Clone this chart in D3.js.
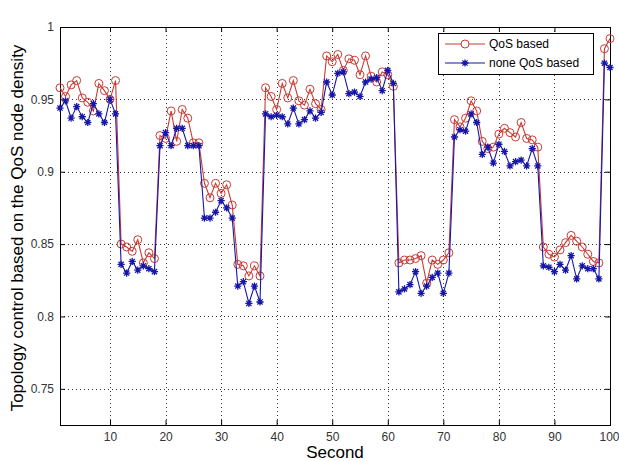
<!DOCTYPE html>
<html>
<head>
<meta charset="utf-8">
<script src="https://cdn.jsdelivr.net/npm/d3@7"></script>
<style>
  html, body { margin: 0; padding: 0; background: #fff; }
  svg { display: block; }
</style>
</head>
<body>
<svg id="chart" width="619" height="461"></svg>
<script>
// ---- data ----
const seconds = d3.range(1, 101);
const qosBased = [
  0.958, 0.952, 0.960, 0.963, 0.951, 0.948, 0.942, 0.961, 0.956, 0.950,
  0.963, 0.850, 0.848, 0.845, 0.853, 0.837, 0.844, 0.840, 0.925, 0.923,
  0.942, 0.921, 0.943, 0.937, 0.920, 0.920, 0.892, 0.882, 0.892, 0.885,
  0.891, 0.877, 0.836, 0.835, 0.828, 0.835, 0.828, 0.958, 0.952, 0.943,
  0.961, 0.951, 0.963, 0.949, 0.946, 0.957, 0.947, 0.943, 0.980, 0.976,
  0.981, 0.970, 0.978, 0.977, 0.967, 0.980, 0.966, 0.962, 0.969, 0.967,
  0.959, 0.837, 0.839, 0.839, 0.840, 0.842, 0.823, 0.839, 0.836, 0.839,
  0.844, 0.936, 0.931, 0.937, 0.949, 0.942, 0.921, 0.916, 0.917, 0.926,
  0.930, 0.927, 0.924, 0.934, 0.923, 0.922, 0.917, 0.848, 0.843, 0.841,
  0.846, 0.851, 0.856, 0.852, 0.848, 0.843, 0.838, 0.837, 0.985, 0.992
];
const noneQosBased = [
  0.944, 0.949, 0.937, 0.945, 0.938, 0.934, 0.947, 0.940, 0.934, 0.950,
  0.940, 0.836, 0.830, 0.838, 0.832, 0.835, 0.833, 0.831, 0.918, 0.927,
  0.918, 0.930, 0.930, 0.918, 0.918, 0.918, 0.868, 0.868, 0.872, 0.880,
  0.875, 0.868, 0.821, 0.824, 0.809, 0.821, 0.810, 0.940, 0.938, 0.939,
  0.938, 0.933, 0.944, 0.933, 0.936, 0.942, 0.937, 0.941, 0.962, 0.953,
  0.968, 0.969, 0.954, 0.955, 0.952, 0.962, 0.964, 0.965, 0.956, 0.970,
  0.961, 0.817, 0.819, 0.822, 0.831, 0.816, 0.821, 0.827, 0.830, 0.816,
  0.830, 0.924, 0.929, 0.928, 0.940, 0.934, 0.912, 0.917, 0.906, 0.919,
  0.914, 0.904, 0.907, 0.908, 0.904, 0.916, 0.904, 0.835, 0.834, 0.831,
  0.836, 0.832, 0.842, 0.826, 0.835, 0.833, 0.833, 0.826, 0.975, 0.972
];
const xTicks = [10, 20, 30, 40, 50, 60, 70, 80, 90, 100];
const yTicks = [0.75, 0.8, 0.85, 0.9, 0.95, 1];
const seriesNames = ["QoS based", "none QoS based"];
const xLabel = "Second";
const yLabel = "Topology control based on the QoS node density";

// ---- layout ----
const svg = d3.select("#chart");
const L = 60, R = 610, T = 27, B = 425;
const redC = "#c93a33", blueC = "#1616a8";
const x = d3.scaleLinear().domain([1, 100]).range([L, R]);
const y = d3.scaleLinear().domain([0.725, 1]).range([B, T]);

svg.append("rect").attr("width", 619).attr("height", 461).attr("fill", "#fff");

// grid
const grid = svg.append("g").attr("stroke", "#333").attr("stroke-width", 1)
  .attr("stroke-dasharray", "1,3").attr("shape-rendering", "crispEdges");
grid.selectAll(".gx").data(xTicks.filter(d => d < 100)).join("line")
  .attr("x1", d => Math.round(x(d)) + 0.5).attr("x2", d => Math.round(x(d)) + 0.5)
  .attr("y1", T).attr("y2", B);
grid.selectAll(".gy").data(yTicks.filter(d => d < 1)).join("line")
  .attr("y1", d => Math.round(y(d)) + 0.5).attr("y2", d => Math.round(y(d)) + 0.5)
  .attr("x1", L).attr("x2", R);

// axes
const fmtY = d => (d === 1 ? "1" : d3.format("")(d));
const axB = svg.append("g").attr("transform", `translate(0,${B})`)
  .call(d3.axisBottom(x).tickValues(xTicks).tickSizeInner(-5).tickSizeOuter(0).tickPadding(7));
const axT = svg.append("g").attr("transform", `translate(0,${T})`)
  .call(d3.axisTop(x).tickValues(xTicks).tickSizeInner(-5).tickSizeOuter(0).tickFormat(""));
const axL = svg.append("g").attr("transform", `translate(${L},0)`)
  .call(d3.axisLeft(y).tickValues(yTicks).tickSizeInner(-5).tickSizeOuter(0).tickPadding(6).tickFormat(fmtY));
const axR = svg.append("g").attr("transform", `translate(${R},0)`)
  .call(d3.axisRight(y).tickValues(yTicks).tickSizeInner(-5).tickSizeOuter(0).tickFormat(""));
[axB, axT, axL, axR].forEach(a => {
  a.select(".domain").remove();
  a.selectAll("line").attr("stroke", "#000");
  a.selectAll("text").attr("fill", "#333").style("font-family", "Liberation Sans, Arial, sans-serif").style("font-size", "12px");
});
// keep the last x label inside the picture
axB.selectAll(".tick text").filter(d => d === 100).attr("text-anchor", "end").attr("x", 9);

// box
svg.append("rect").attr("x", L + 0.5).attr("y", T + 0.5).attr("width", R - L).attr("height", B - T)
  .attr("fill", "none").attr("stroke", "#000").attr("stroke-width", 1);

// series
const line = d3.line().x((d, i) => x(seconds[i])).y(d => y(d));
const starPath = r => {
  const k = r * 0.72;
  return `M${-r},0L${r},0M0,${-r}L0,${r}M${-k},${-k}L${k},${k}M${-k},${k}L${k},${-k}`;
};

const gRed = svg.append("g");
gRed.append("path").datum(qosBased).attr("d", line).attr("fill", "none")
  .attr("stroke", redC).attr("stroke-width", 1.1);
gRed.selectAll("circle").data(qosBased).join("circle")
  .attr("cx", (d, i) => x(seconds[i])).attr("cy", d => y(d)).attr("r", 4)
  .attr("fill", "none").attr("stroke", redC).attr("stroke-width", 1);

const gBlue = svg.append("g");
gBlue.append("path").datum(noneQosBased).attr("d", line).attr("fill", "none")
  .attr("stroke", blueC).attr("stroke-width", 1.1);
gBlue.selectAll(".star").data(noneQosBased).join("path")
  .attr("transform", (d, i) => `translate(${x(seconds[i])},${y(d)})`)
  .attr("d", starPath(3.6)).attr("fill", "none").attr("stroke", blueC).attr("stroke-width", 1.3);

// legend
const lg = svg.append("g");
lg.append("rect").attr("x", 438.5).attr("y", 33.5).attr("width", 155).attr("height", 41)
  .attr("fill", "#fff").attr("stroke", "#000").attr("stroke-width", 1);
const items = [
  { name: seriesNames[0], color: redC, y: 44, mark: "circle" },
  { name: seriesNames[1], color: blueC, y: 63, mark: "star" }
];
items.forEach(it => {
  lg.append("line").attr("x1", 445).attr("x2", 485).attr("y1", it.y).attr("y2", it.y)
    .attr("stroke", it.color).attr("stroke-width", 1.1);
  if (it.mark === "circle") {
    lg.append("circle").attr("cx", 465).attr("cy", it.y).attr("r", 4)
      .attr("fill", "#fff").attr("stroke", it.color);
  } else {
    lg.append("path").attr("transform", `translate(465,${it.y})`).attr("d", starPath(3.6))
      .attr("stroke", it.color).attr("stroke-width", 1.3).attr("fill", "none");
  }
  lg.append("text").attr("x", 489).attr("y", it.y).attr("dy", "0.35em")
    .style("font-family", "Liberation Sans, Arial, sans-serif").style("font-size", "12px")
    .attr("fill", "#000").text(it.name);
});

// axis titles
svg.append("text").attr("x", (L + R) / 2).attr("y", 452).attr("dy", "0.35em")
  .attr("text-anchor", "middle").style("font-family", "Liberation Sans, Arial, sans-serif")
  .style("font-size", "17px").attr("fill", "#000").text(xLabel);
svg.append("text").attr("transform", `translate(17,${(T + B) / 2 + 2}) rotate(-90)`)
  .attr("dy", "0.35em").attr("text-anchor", "middle")
  .style("font-family", "Liberation Sans, Arial, sans-serif")
  .style("font-size", "17px").attr("fill", "#000").text(yLabel);
</script>
</body>
</html>
